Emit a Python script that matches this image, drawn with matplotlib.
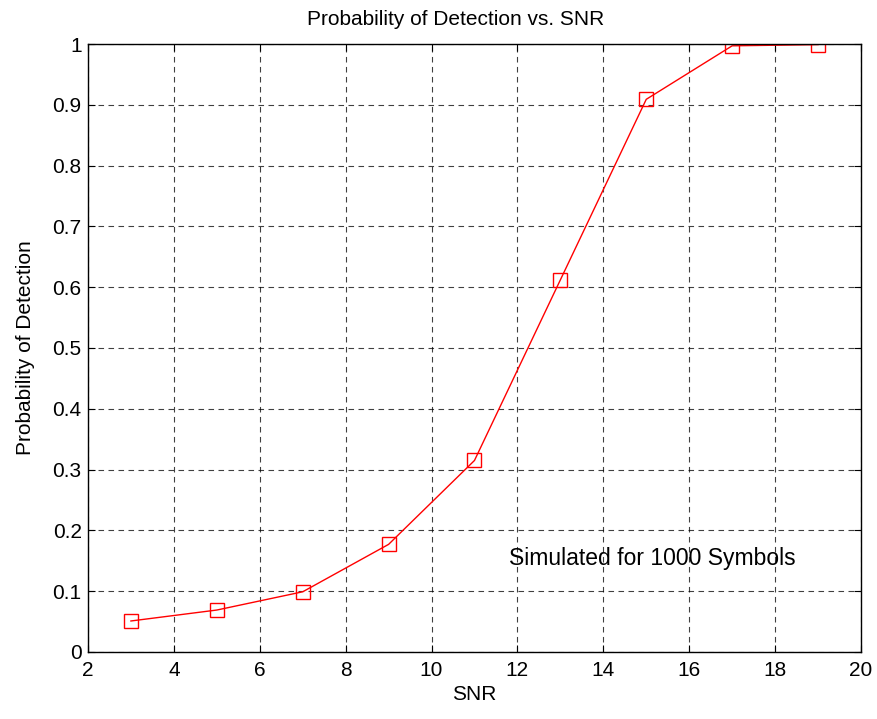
import matplotlib.pyplot as plt

snr = [3, 5, 7, 9, 11, 13, 15, 17, 19]
pd_vals = [0.051, 0.069, 0.099, 0.177, 0.315, 0.612, 0.909, 0.997, 0.999]
x_ticks = [2, 4, 6, 8, 10, 12, 14, 16, 18, 20]
y_ticks = [0, 0.1, 0.2, 0.3, 0.4, 0.5, 0.6, 0.7, 0.8, 0.9, 1]
y_labels = ["0", "0.1", "0.2", "0.3", "0.4", "0.5", "0.6", "0.7", "0.8", "0.9", "1"]

plt.rcParams["font.family"] = ["Liberation Sans", "DejaVu Sans"]

fig = plt.figure(figsize=(8.78, 7.19), dpi=100)
ax = fig.add_axes([0.1002, 0.0932, 0.8804, 0.8456])

ax.plot(snr, pd_vals, color="red", linewidth=1.0, marker="s", markersize=10,
        markerfacecolor="none", markeredgecolor="red", markeredgewidth=1.0)

ax.set_xlim(2, 20)
ax.set_ylim(0, 1)
ax.set_xticks(x_ticks)
ax.set_yticks(y_ticks)
ax.set_yticklabels(y_labels)
ax.tick_params(direction="in", length=5, labelsize=15)
ax.tick_params(axis="x", pad=6.5)
ax.tick_params(axis="y", pad=4.5)
ax.tick_params(top=True, right=True)
ax.grid(True, color="black", linestyle=(0, (5, 4)), linewidth=0.8, alpha=0.75)
for s in ax.spines.values():
    s.set_linewidth(1.0)

ax.set_xlabel("SNR", fontsize=15, labelpad=3.3)
ax.set_ylabel("Probability of Detection", fontsize=15, labelpad=13)
ax.set_title("Probability of Detection vs. SNR", fontsize=15, pad=13.5, x=0.476)

ax.text(11.8, 0.153, "Simulated for 1000 Symbols", fontsize=16.5, va="center", ha="left")

fig.savefig("out.png", dpi=100)
